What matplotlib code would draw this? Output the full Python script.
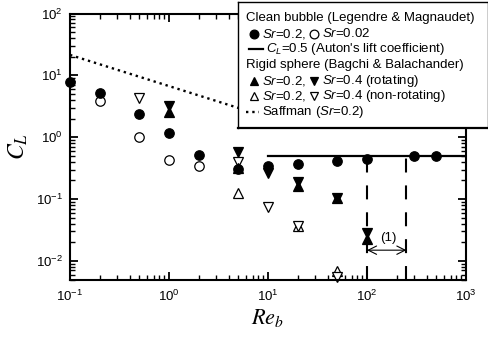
import numpy as np
import matplotlib
matplotlib.use("Agg")
import matplotlib.pyplot as plt

plt.rcParams['font.family'] = ['Liberation Sans', 'DejaVu Sans']
plt.rcParams['mathtext.fontset'] = 'custom'
plt.rcParams['mathtext.rm'] = 'Liberation Sans'
plt.rcParams['mathtext.it'] = 'Liberation Sans:italic'
plt.rcParams['mathtext.bf'] = 'Liberation Sans:bold'

# clean bubble (Legendre & Magnaudet)
re_bub_sr02 = [0.1, 0.2, 0.5, 1, 2, 5, 10, 20, 50, 100, 300, 500]
cl_bub_sr02 = [7.9, 5.1, 2.4, 1.15, 0.52, 0.31, 0.34, 0.37, 0.41, 0.45, 0.49, 0.49]
re_bub_sr002 = [0.2, 0.5, 1, 2]
cl_bub_sr002 = [3.9, 1.0, 0.43, 0.34]

# rigid sphere (Bagchi & Balachander)
re_rot_sr02 = [1, 5, 20, 50, 100]
cl_rot_sr02 = [2.6, 0.32, 0.16, 0.105, 0.023]
re_rot_sr04 = [1, 5, 10, 20, 50, 100]
cl_rot_sr04 = [3.2, 0.58, 0.26, 0.19, 0.105, 0.028]
re_non_sr02 = [5, 20, 50]
cl_non_sr02 = [0.127, 0.037, 0.0068]
re_non_sr04 = [0.5, 5, 10, 20, 50]
cl_non_sr04 = [4.3, 0.39, 0.075, 0.037, 0.0054]

# Auton's lift coefficient and Saffman
re_auton = [10, 1000]
cl_auton = [0.5, 0.5]
re_saffman = [0.1, 10]
cl_saffman = [21.4, 2.1]

# region (1)
re_bounds = [100, 250]
cl_dash_top = 0.7
cl_arrow = 0.0149

fig = plt.figure(figsize=(4.89, 3.37), dpi=100)
ax = fig.add_axes([70 / 489, 1 - 279.5 / 337, 396 / 489, 266 / 337])
ax.set_xscale('log')
ax.set_yscale('log')
ax.set_xlim(0.1, 1000)
ax.set_ylim(0.005, 100)

ax.plot(re_saffman, cl_saffman, color='black', ls=':', lw=1.7)
ax.plot(re_auton, cl_auton, color='black', lw=1.6)
ax.vlines(re_bounds, 0.005, cl_dash_top, colors='black', lw=1.5,
          linestyles=[(0, (6.7, 6.2))])
ax.annotate('', xy=(re_bounds[0], cl_arrow), xytext=(re_bounds[1], cl_arrow),
            arrowprops=dict(arrowstyle='<->', lw=0.8, color='black',
                            shrinkA=0, shrinkB=0, mutation_scale=15))
ax.text(np.sqrt(re_bounds[0] * re_bounds[1]) * 1.03, cl_arrow * 1.6, '(1)',
        ha='center', va='center', fontsize=9.5)

ms = 6.8
open_kw = dict(ls='none', mfc='white', mec='black', mew=0.9, ms=ms, clip_on=False)
fill_kw = dict(ls='none', mfc='black', mec='black', mew=0.9, ms=ms, clip_on=False)
ax.plot(re_bub_sr002, cl_bub_sr002, 'o', **open_kw)
ax.plot(re_non_sr02, cl_non_sr02, '^', **open_kw)
ax.plot(re_non_sr04, cl_non_sr04, 'v', **open_kw)
ax.plot(re_rot_sr02, cl_rot_sr02, '^', **fill_kw)
ax.plot(re_rot_sr04, cl_rot_sr04, 'v', **fill_kw)
ax.plot(re_bub_sr02, cl_bub_sr02, 'o', **fill_kw)

for s in ax.spines.values():
    s.set_linewidth(1.5)
ax.tick_params(which='both', direction='in', top=True, right=True, labelsize=9.5)
ax.tick_params(which='major', length=6, width=1.3)
ax.tick_params(which='minor', length=3.5, width=1.0)
ax.tick_params(axis='x', which='major', pad=7)
ax.tick_params(axis='y', which='major', pad=5)

ax.set_xlabel('$Re_b$', fontsize=16, math_fontfamily='stix', labelpad=2)
ax.set_ylabel('$C_L$', fontsize=17, math_fontfamily='stix', labelpad=4)

# legend box drawn by hand (pixel layout, y measured downward)
lg = fig.add_axes([237.7 / 489, 1 - 128.3 / 337, 250.3 / 489, 126.6 / 337])
lg.set_xlim(0, 250.3)
lg.set_ylim(126.6, 0)
lg.set_xticks([])
lg.set_yticks([])
lg.set_zorder(5)
for s in lg.spines.values():
    s.set_linewidth(1.0)
lg.spines['bottom'].set_linewidth(1.6)

fs = 9.5
lms = 6.3
renderer = fig.canvas.get_renderer()


def text_end(t):
    # right edge of a text, in legend pixel units
    bb = t.get_window_extent(renderer)
    return lg.transData.inverted().transform((bb.x1, bb.y0))[0]


def pair_row(y, m1, f1, lab1, m2, f2, lab2):
    lg.plot([16.3], [y], m1, mfc=f1, mec='black', mew=0.9, ms=lms)
    t = lg.text(24.6, y, lab1, fontsize=fs, va='center')
    x2 = text_end(t) + 8
    lg.plot([x2], [y], m2, mfc=f2, mec='black', mew=0.9, ms=lms)
    lg.text(x2 + 7.5, y, lab2, fontsize=fs, va='center')


rows = [16.2, 31.9, 47.6, 63.3, 79.0, 94.7, 110.4]
lg.text(8, rows[0], 'Clean bubble (Legendre & Magnaudet)', fontsize=fs, va='center')
pair_row(rows[1], 'o', 'black', '$Sr$=0.2,', 'o', 'white', '$Sr$=0.02')
lg.plot([11, 25], [rows[2], rows[2]], color='black', lw=1.6)
lg.text(28, rows[2], '$C_L$=0.5 (Auton\'s lift coefficient)', fontsize=fs, va='center')
lg.text(8, rows[3], 'Rigid sphere (Bagchi & Balachander)', fontsize=fs, va='center')
pair_row(rows[4], '^', 'black', '$Sr$=0.2,', 'v', 'black', '$Sr$=0.4 (rotating)')
pair_row(rows[5], '^', 'white', '$Sr$=0.2,', 'v', 'white', '$Sr$=0.4 (non-rotating)')
lg.plot([8, 21], [rows[6], rows[6]], color='black', ls=':', lw=1.7)
lg.text(24, rows[6], 'Saffman ($Sr$=0.2)', fontsize=fs, va='center')

fig.savefig('out.png', dpi=100)
